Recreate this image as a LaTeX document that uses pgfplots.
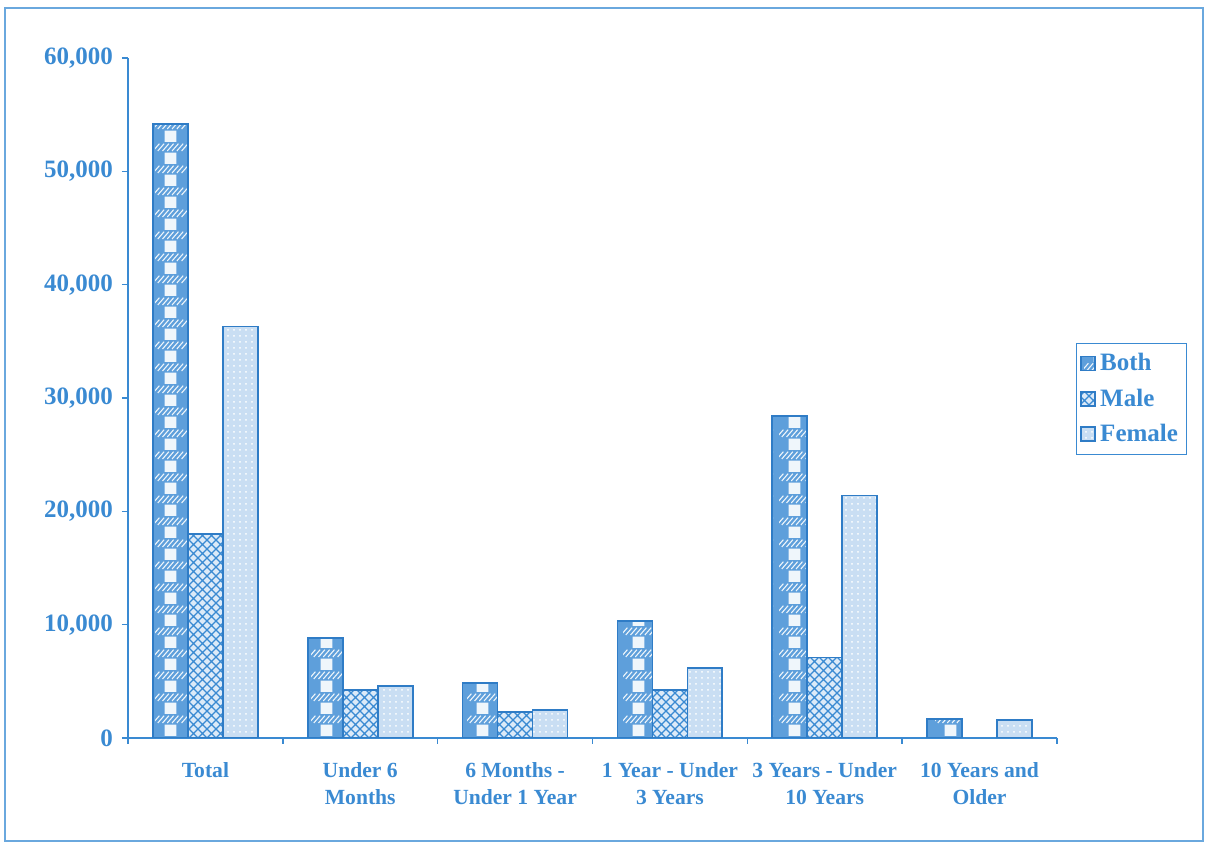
\documentclass[border=0pt]{standalone}
\usepackage{fontspec}
\setmainfont{Liberation Serif}
\usepackage{pgfplots}
\pgfplotsset{compat=1.18}
\usetikzlibrary{patterns}

\definecolor{chartblue}{HTML}{3A8AD2}
\definecolor{edgeblue}{HTML}{2F7CC6}
\definecolor{bothfill}{HTML}{5E9FDB}
\definecolor{malefill}{HTML}{DCEAF8}
\definecolor{femalefill}{HTML}{C9DEF3}
\definecolor{framecol}{HTML}{6AA8DE}

% one column of white blocks per "Both" bar, with a band of diagonal hatching
% between the blocks; the tile width is a quarter of the category spacing,
% so every bar sees the same phase of the tile
\pgfdeclarepatternformonly{bothcheck}{\pgfqpoint{0pt}{0pt}}{\pgfqpoint{19.3542pt}{11pt}}{\pgfqpoint{19.3542pt}{11pt}}{%
  \pgfpathrectangle{\pgfqpoint{4.8pt}{0pt}}{\pgfqpoint{6pt}{6pt}}\pgfusepath{fill}%
  \pgfsetlinewidth{0.55pt}%
  \pgfpathmoveto{\pgfqpoint{-1pt}{6.8pt}}\pgflineto{\pgfqpoint{2.2pt}{10.6pt}}%
  \pgfpathmoveto{\pgfqpoint{1.4pt}{6.8pt}}\pgflineto{\pgfqpoint{4.6pt}{10.6pt}}%
  \pgfpathmoveto{\pgfqpoint{3.8pt}{6.8pt}}\pgflineto{\pgfqpoint{7.0pt}{10.6pt}}%
  \pgfpathmoveto{\pgfqpoint{6.2pt}{6.8pt}}\pgflineto{\pgfqpoint{9.4pt}{10.6pt}}%
  \pgfpathmoveto{\pgfqpoint{8.6pt}{6.8pt}}\pgflineto{\pgfqpoint{11.8pt}{10.6pt}}%
  \pgfpathmoveto{\pgfqpoint{11.0pt}{6.8pt}}\pgflineto{\pgfqpoint{14.2pt}{10.6pt}}%
  \pgfpathmoveto{\pgfqpoint{13.4pt}{6.8pt}}\pgflineto{\pgfqpoint{16.6pt}{10.6pt}}%
  \pgfusepath{stroke}}

% coarse diamond lattice for the "Male" bars
\pgfdeclarepatternformonly{widecross}{\pgfqpoint{-0.5pt}{-0.5pt}}{\pgfqpoint{5pt}{5pt}}{\pgfqpoint{4.5pt}{4.5pt}}{%
  \pgfsetlinewidth{0.6pt}%
  \pgfpathmoveto{\pgfqpoint{0pt}{0pt}}\pgflineto{\pgfqpoint{4.5pt}{4.5pt}}%
  \pgfpathmoveto{\pgfqpoint{0pt}{4.5pt}}\pgflineto{\pgfqpoint{4.5pt}{0pt}}%
  \pgfusepath{stroke}}

\pgfplotstableread{
x  both   male   female
0  54200  18000  36300
1  8800   4200   4600
2  4850   2300   2500
3  10300  4200   6200
4  28400  7100   21400
5  1700   nan    1600
}\agedata

\begin{document}
\begin{tikzpicture}
\useasboundingbox (0,0) rectangle (603.5pt,423pt);
\draw[framecol, line width=0.7pt] (2.5pt,2.5pt) rectangle (601.5pt,419pt);
\begin{axis}[
  at={(64pt,54pt)}, anchor=south west,
  scale only axis, width=464.5pt, height=340pt,
  xmin=-0.5, xmax=5.5, ymin=0, ymax=60000,
  axis x line*=bottom, axis y line*=left,
  axis line style={chartblue, line width=0.8pt},
  ybar=0pt, bar width=0.226,
  ytick={0,10000,...,60000},
  scaled y ticks=false,
  /pgf/number format/1000 sep={,},
  /pgf/number format/assume math mode=true,
  yticklabel style={font=\bfseries\fontsize{12.5}{14}\selectfont, text=chartblue, xshift=-1pt},
  ytick style={chartblue, line width=0.8pt},
  tick align=outside, major tick length=3pt,
  xtick={-0.5,0.5,...,5.5}, xticklabels={},
  xtick style={chartblue, line width=0.8pt},
  extra x ticks={0,1,2,3,4,5},
  extra x tick labels={Total, Under 6\\Months, 6 Months -\\Under 1 Year, 1 Year - Under\\3 Years, 3 Years - Under\\10 Years, 10 Years and\\Older},
  extra x tick style={major tick length=0pt,
    xticklabel style={align=center, font=\bfseries\fontsize{10.8}{13.5}\selectfont, text=chartblue, anchor=north, yshift=-8.5pt}},
  legend style={at={(1.0205,0.581)}, anchor=north west, draw=chartblue,
    font=\bfseries\fontsize{12.5}{14}\selectfont, text=chartblue,
    row sep=3.5pt, inner xsep=2pt, inner ysep=3pt},
  legend cell align=left,
  legend image code/.code={\draw[#1] (0pt,-3.5pt) rectangle (7pt,3.5pt);},
]
\addplot[draw=edgeblue, line width=0.9pt, fill=bothfill,
  postaction={pattern=bothcheck, pattern color=white!92!chartblue}]
  table[x=x, y=both] {\agedata};
\addplot[draw=edgeblue, line width=0.9pt, fill=malefill,
  postaction={pattern=widecross, pattern color=chartblue}]
  table[x=x, y=male] {\agedata};
\addplot[draw=edgeblue, line width=0.9pt, fill=femalefill,
  postaction={pattern=dots, pattern color=white}]
  table[x=x, y=female] {\agedata};
\legend{Both, Male, Female}
\end{axis}
\end{tikzpicture}
\end{document}
